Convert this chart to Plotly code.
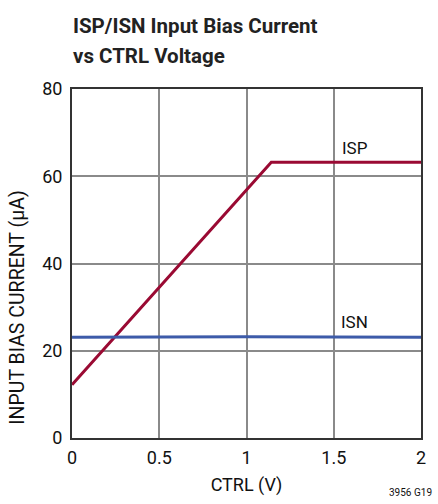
import plotly.graph_objects as go

# Data
isp_x = [0.0, 1.142, 2.0]
isp_y = [12.2, 63.2, 63.2]
isn_x = [0.0, 1.0, 2.0]
isn_y = [23.1, 23.2, 23.1]

x_ticks = [0, 0.5, 1, 1.5, 2]
x_tick_labels = ["0", "0.5", "1", "1.5", "2"]
y_ticks = [0, 20, 40, 60, 80]
y_tick_labels = ["0", "20", "40", "60", "80"]

title_lines = ["ISP/ISN Input Bias Current", "vs CTRL Voltage"]

FONT = "Roboto, Liberation Sans, sans-serif"

fig = go.Figure()
fig.add_trace(go.Scatter(x=isp_x, y=isp_y, mode="lines",
                         line=dict(color="#9a0a33", width=3), name="ISP"))
fig.add_trace(go.Scatter(x=isn_x, y=isn_y, mode="lines",
                         line=dict(color="#3d5ba9", width=3), name="ISN"))

fig.update_layout(
    width=438, height=504,
    margin=dict(l=72, r=14, t=89, b=63),
    paper_bgcolor="white", plot_bgcolor="white",
    showlegend=False,
    font=dict(family=FONT, color="#111", size=18),
)
fig.update_xaxes(range=[0, 2], tickvals=x_ticks, ticktext=x_tick_labels,
                 showgrid=True, gridcolor="#8a8a8a", gridwidth=1.5,
                 showline=True, linecolor="#333", linewidth=2, mirror=True,
                 zeroline=False, ticks="", ticklen=0, ticklabelstandoff=2,
                 tickfont=dict(size=18, family=FONT),
                 title=dict(text="CTRL (V)", font=dict(size=18, family=FONT), standoff=12))
fig.update_yaxes(range=[0, 80], tickvals=y_ticks, ticktext=y_tick_labels,
                 showgrid=True, gridcolor="#8a8a8a", gridwidth=1.5,
                 showline=True, linecolor="#333", linewidth=2, mirror=True,
                 zeroline=False, ticks="", ticklen=0, ticklabelstandoff=4,
                 tickfont=dict(size=18, family=FONT))

# y-axis title (sits lower than centre in the reference)
fig.add_annotation(text="INPUT BIAS CURRENT (µA)", textangle=-90,
                   xref="paper", yref="paper", x=-0.156, y=0.372,
                   xanchor="center", yanchor="middle", showarrow=False,
                   font=dict(size=19.5, family=FONT))

for line, ypos in zip(title_lines, [1.2216, 1.136]):
    fig.add_annotation(text="<b>" + line + "</b>",
                       xref="paper", yref="paper", x=-0.003, y=ypos,
                       xanchor="left", yanchor="top", align="left", showarrow=False,
                       font=dict(size=20.5, family=FONT, color="#222"))
fig.add_annotation(text="ISP", x=1.62, y=66.5, showarrow=False,
                   font=dict(size=17, family=FONT))
fig.add_annotation(text="ISN", x=1.62, y=26.6, showarrow=False,
                   font=dict(size=17, family=FONT))
fig.add_annotation(text="3956 G19", xref="paper", yref="paper",
                   x=1.037, y=-0.178, xanchor="right", yanchor="bottom",
                   showarrow=False, font=dict(size=10, family=FONT))

fig.write_html(
    "out.html",
    config={"displayModeBar": False},
    post_script="document.body.style.margin='0';"
                "document.documentElement.style.overflow='hidden';",
)
